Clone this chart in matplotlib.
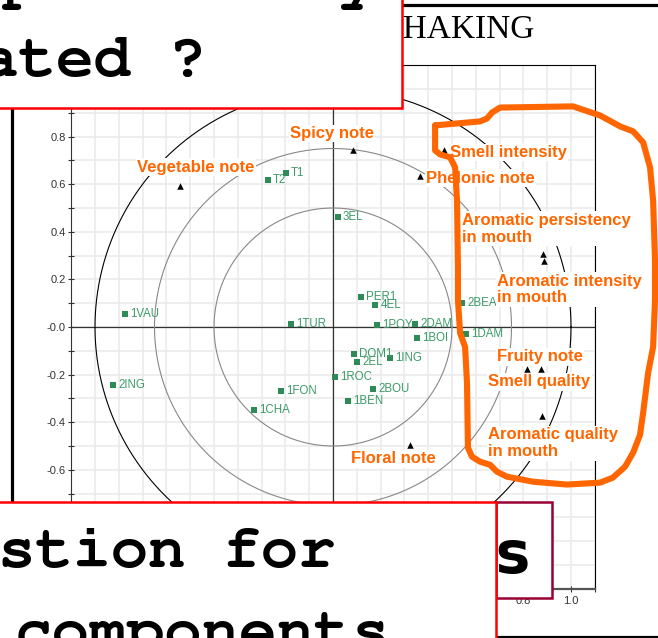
import matplotlib
matplotlib.use('Agg')
import matplotlib.pyplot as plt
import numpy as np
from matplotlib.patches import Rectangle
import logging

logging.getLogger('matplotlib.font_manager').setLevel(logging.ERROR)

W, H = 658, 638

# sample scores on the first two components
obs_names = ['T1', 'T2', '1VAU', '1TUR', '2ING', '1FON', '1CHA', '3EL', 'PER1', '4EL',
             '2BEA', '1POY', '2DAM', '1BOI', '1DAM', 'DOM1', '2EL', '1ING', '1ROC',
             '2BOU', '1BEN']
obs_x = [-0.197, -0.274, -0.874, -0.176, -0.924, -0.218, -0.332, 0.020, 0.118, 0.178,
         0.542, 0.185, 0.345, 0.353, 0.558, 0.087, 0.101, 0.239, 0.008, 0.168, 0.063]
obs_y = [0.647, 0.616, 0.055, 0.013, -0.243, -0.271, -0.347, 0.462, 0.127, 0.091,
         0.102, 0.007, 0.013, -0.045, -0.031, -0.112, -0.147, -0.129, -0.208, -0.261,
         -0.312]

# sensory descriptors (correlation with the components)
var_names = ['Vegetable note', 'Spicy note', 'Smell intensity', 'Phelonic note',
             'Aromatic persistency\nin mouth', 'Aromatic intensity\nin mouth',
             'Fruity note', 'Smell quality', 'Aromatic quality\nin mouth', 'Floral note']
var_x = [-0.643, 0.085, 0.468, 0.366, 0.884, 0.885, 0.814, 0.873, 0.877, 0.324]
var_y = [0.594, 0.745, 0.742, 0.633, 0.306, 0.278, -0.175, -0.175, -0.373, -0.496]
# label offsets in points
var_dx = [-31, -45.6, 4.1, 4.3, -58.5, -33.6, -21.4, -37.9, -38.7, -42.5]
var_dy = [13.2, 11.7, -1.4, -1.4, 18.4, -20.7, 8.4, -9.6, -19.8, -9.9]

radii = [1.0, 0.75, 0.5]
ticks = [-1.0, -0.8, -0.6, -0.4, -0.2, 0.0, 0.2, 0.4, 0.6, 0.8, 1.0]
tick_labels = ['-1.0', '-0.8', '-0.6', '-0.4', '-0.2', '-0.0', '0.2', '0.4', '0.6', '0.8', '1.0']

# hand drawn loop around the right hand group of descriptors
loop_x = [0.429, 0.618, 0.647, 0.668, 0.702, 1.008, 1.122, 1.206, 1.261, 1.303, 1.332,
          1.345, 1.353, 1.353, 1.345, 1.324, 1.303, 1.290, 1.261, 1.227, 1.176, 1.122,
          0.983, 0.840, 0.731, 0.689, 0.660, 0.618, 0.584, 0.567, 0.563, 0.555, 0.534,
          0.525, 0.525, 0.521, 0.513, 0.492, 0.450, 0.429, 0.429]
loop_y = [0.847, 0.864, 0.876, 0.901, 0.922, 0.927, 0.889, 0.843, 0.822, 0.776, 0.671,
          0.532, 0.281, 0.113, -0.084, -0.193, -0.361, -0.453, -0.528, -0.587, -0.633,
          -0.654, -0.662, -0.650, -0.629, -0.608, -0.579, -0.566, -0.545, -0.507, -0.235,
          -0.084, -0.025, 0.113, 0.252, 0.532, 0.671, 0.713, 0.725, 0.742, 0.847]

green = '#2e8b57'
orange = '#ff6600'

fig = plt.figure(figsize=(W / 100, H / 100), dpi=100)
ax = fig.add_axes([71.2 / W, 49.2 / H, 523.6 / W, 523.6 / H])
ax.set_xlim(-1.1, 1.1)
ax.set_ylim(-1.1, 1.1)

ax.set_xticks(ticks)
ax.set_xticklabels(tick_labels)
ax.set_yticks(ticks)
ax.set_yticklabels(tick_labels)
minor = np.round(np.arange(-1.1, 1.11, 0.1), 1)
ax.set_xticks(minor, minor=True)
ax.set_yticks(minor, minor=True)
ax.grid(which='both', color='#ebebeb', lw=1.2)
ax.set_axisbelow(True)
ax.tick_params(which='both', direction='inout', length=5, width=0.8, color='#333',
               labelsize=8, labelcolor='#333', pad=1.5)
ax.tick_params(axis='x', pad=3)
for lab in ax.get_xticklabels() + ax.get_yticklabels():
    lab.set_family('Liberation Sans')

ax.spines['top'].set_linewidth(0.8)
ax.spines['right'].set_linewidth(0.8)
ax.spines['left'].set_color('#333')
ax.spines['left'].set_linewidth(0.8)
ax.spines['bottom'].set_color('#555')
ax.spines['bottom'].set_linewidth(1.6)

ax.axhline(0, color='#333', lw=0.9, zorder=1)
ax.axvline(0, color='#333', lw=0.9, zorder=1)

t = np.linspace(0, 2 * np.pi, 400)
for r in radii:
    c = 'black' if r == 1.0 else '#888888'
    ax.plot(r * np.cos(t), r * np.sin(t), color=c, lw=0.8, zorder=2)

ax.scatter(obs_x, obs_y, marker='s', s=22, color=green, zorder=3, linewidths=0)
for name, x, y in zip(obs_names, obs_x, obs_y):
    ax.annotate(name, (x, y), xytext=(3.6, 0), textcoords='offset points',
                va='center', ha='left', fontsize=8.3, color='#3c9a68',
                family='Liberation Sans', zorder=3)

ax.scatter(var_x, var_y, marker='^', s=22, color='black', zorder=3, linewidths=0)
for name, x, y, dx, dy in zip(var_names, var_x, var_y, var_dx, var_dy):
    ax.annotate(name, (x, y), xytext=(dx, dy), textcoords='offset points',
                va='center', ha='left', fontsize=12, fontweight='bold', color=orange,
                family='Liberation Sans', linespacing=1.15, zorder=4,
                bbox=dict(facecolor='white', edgecolor='none', pad=1.0))

ax.plot(loop_x, loop_y, color=orange, lw=4.4, solid_joinstyle='round',
        solid_capstyle='round', clip_on=False, zorder=6)

# slide elements drawn in pixel coordinates on top of the chart
ov = fig.add_axes([0, 0, 1, 1], zorder=10)
ov.set_xlim(0, W)
ov.set_ylim(H, 0)
ov.axis('off')
ov.patch.set_visible(False)

ov.text(384.5, 38, 'SHAKING', family='Liberation Serif', fontsize=24,
        ha='left', va='baseline', zorder=1)
ov.plot([380, 660], [5, 5], color='black', lw=2.3, zorder=1, solid_capstyle='butt')
ov.plot([12, 12], [100, 510], color='black', lw=2.3, zorder=1, solid_capstyle='butt')
ov.plot([480, 660], [637, 637], color='black', lw=2.3, zorder=1, solid_capstyle='butt')

ov.add_patch(Rectangle((496, 502), 56, 96, facecolor='white', edgecolor='#990033',
                       lw=1.8, zorder=3))
ov.text(531, 573, 'axes', family='DejaVu Sans', fontweight='bold', fontsize=42,
        ha='right', va='baseline', zorder=3.5)

ov.add_patch(Rectangle((-10, 502), 506, 150, facecolor='white', edgecolor='red',
                       lw=1.8, zorder=4))
ov.add_patch(Rectangle((-10, -20), 412, 128, facecolor='white', edgecolor='red',
                       lw=1.8, zorder=4))

mono = dict(family=['Courier New', 'Nimbus Mono PS', 'FreeMono', 'Liberation Mono'],
            fontweight='bold', fontsize=45, ha='left', va='baseline', zorder=5)
ov.text(2, -2, 'positively', **mono)
ov.text(-19, 76, 'ated ?', **mono)
ov.text(-2, 567, 'stion for', **mono)
ov.text(15, 649, 'components.', **mono)

fig.savefig('out.png', dpi=100)
